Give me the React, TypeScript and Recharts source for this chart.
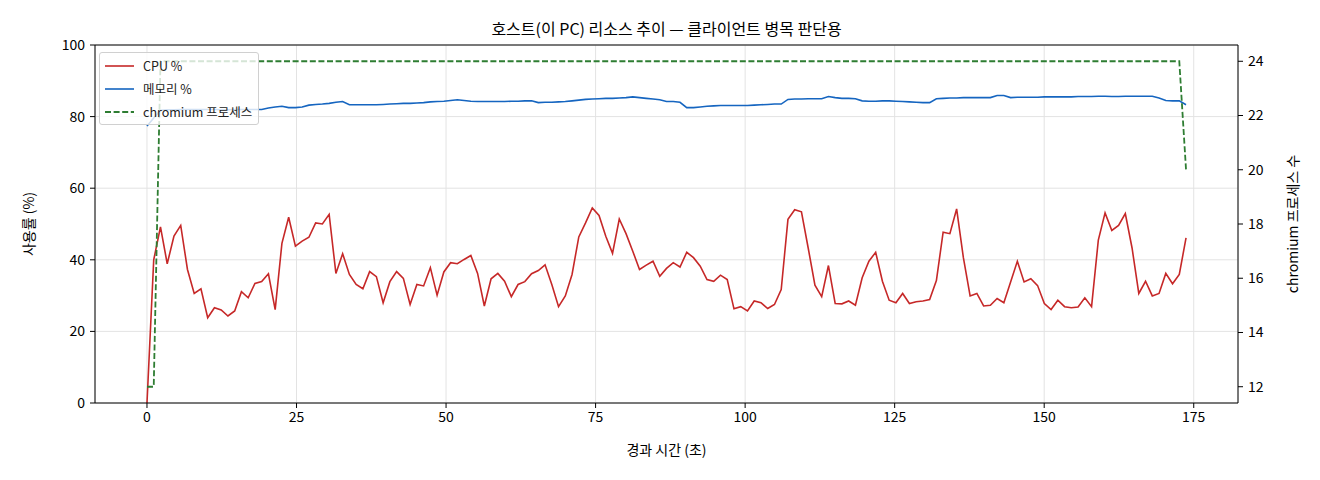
import { LineChart, Line, XAxis, YAxis, CartesianGrid, Legend, ReferenceLine } from 'recharts';

// sampling interval of the host monitor (seconds between samples)
const SAMPLE_SEC = 1.128;

const cpuPct = [
    0.0, 40.0, 49.2, 38.9, 46.6, 49.6, 37.3, 30.6, 31.9, 23.8,
    26.6, 26.0, 24.3, 25.7, 31.1, 29.4, 33.4, 33.9, 36.1, 26.1,
    44.6, 51.9, 43.8, 45.2, 46.3, 50.3, 50.0, 52.7, 36.2, 41.7,
    35.9, 33.1, 31.9, 36.7, 35.3, 28.0, 33.9, 36.7, 34.8, 27.5,
    33.1, 32.7, 37.8, 30.1, 36.6, 39.2, 38.9, 40.1, 41.2, 36.2,
    27.1, 34.7, 36.2, 34.0, 29.7, 33.1, 33.9, 36.1, 37.0, 38.6,
    33.1, 26.9, 29.9, 35.9, 46.4, 50.3, 54.5, 52.4, 46.6, 41.8,
    51.4, 47.3, 42.4, 37.3, 38.5, 39.6, 35.4, 37.6, 39.2, 38.0,
    42.1, 40.6, 38.2, 34.5, 34.0, 35.7, 34.5, 26.3, 26.9, 25.7,
    28.5, 28.0, 26.4, 27.5, 31.7, 51.3, 54.0, 53.4, 43.3, 32.9,
    29.7, 38.4, 27.8, 27.7, 28.5, 27.3, 35.0, 39.6, 42.1, 34.0,
    28.7, 28.0, 30.6, 27.8, 28.3, 28.5, 28.9, 34.2, 47.7, 47.3,
    54.2, 40.6, 29.9, 30.6, 27.1, 27.3, 29.2, 28.0, 33.8, 39.6,
    33.8, 34.7, 32.8, 27.8, 26.1, 28.7, 26.9, 26.6, 26.8, 29.4,
    26.9, 45.5, 53.1, 48.2, 49.6, 52.9, 43.3, 30.6, 34.0, 29.9,
    30.6, 36.2, 33.3, 35.9, 46.1,
];

const memPct = [
    77.4, 79.6, 81.8, 81.9, 81.9, 82.0, 82.0, 82.0, 82.0, 82.0,
    82.0, 81.9, 81.9, 82.0, 82.0, 82.0, 82.0, 82.0, 82.4, 82.7,
    82.9, 82.5, 82.5, 82.7, 83.2, 83.4, 83.5, 83.7, 84.0, 84.2,
    83.3, 83.3, 83.3, 83.3, 83.3, 83.4, 83.5, 83.6, 83.7, 83.7,
    83.8, 83.9, 84.1, 84.2, 84.3, 84.5, 84.7, 84.5, 84.3, 84.2,
    84.2, 84.2, 84.2, 84.2, 84.3, 84.3, 84.4, 84.4, 83.9, 84.0,
    84.0, 84.1, 84.2, 84.4, 84.6, 84.8, 84.9, 85.0, 85.1, 85.1,
    85.2, 85.3, 85.5, 85.3, 85.1, 84.9, 84.7, 84.2, 84.2, 84.0,
    82.5, 82.5, 82.7, 82.9, 83.0, 83.1, 83.1, 83.1, 83.1, 83.1,
    83.2, 83.3, 83.4, 83.5, 83.5, 84.8, 84.9, 84.9, 85.0, 85.0,
    85.0, 85.6, 85.3, 85.1, 85.1, 85.0, 84.4, 84.3, 84.3, 84.4,
    84.4, 84.3, 84.2, 84.1, 84.0, 83.9, 83.9, 85.0, 85.1, 85.2,
    85.2, 85.3, 85.3, 85.3, 85.3, 85.3, 85.9, 85.9, 85.3, 85.4,
    85.4, 85.4, 85.4, 85.5, 85.5, 85.5, 85.5, 85.5, 85.6, 85.6,
    85.6, 85.7, 85.7, 85.6, 85.6, 85.7, 85.7, 85.7, 85.7, 85.7,
    85.2, 84.5, 84.4, 84.4, 83.3,
];

const chromiumProcs = [
    12, 12,
    24, 24, 24, 24, 24, 24, 24, 24, 24, 24, 24, 24, 24, 24, 24, 24, 24, 24, 24,
    24, 24, 24, 24, 24, 24, 24, 24, 24, 24, 24, 24, 24, 24, 24, 24, 24, 24, 24,
    24, 24, 24, 24, 24, 24, 24, 24, 24, 24, 24, 24, 24, 24, 24, 24, 24, 24, 24,
    24, 24, 24, 24, 24, 24, 24, 24, 24, 24, 24, 24, 24, 24, 24, 24, 24, 24, 24,
    24, 24, 24, 24, 24, 24, 24, 24, 24, 24, 24, 24, 24, 24, 24, 24, 24, 24, 24,
    24, 24, 24, 24, 24, 24, 24, 24, 24, 24, 24, 24, 24, 24, 24, 24, 24, 24, 24,
    24, 24, 24, 24, 24, 24, 24, 24, 24, 24, 24, 24, 24, 24, 24, 24, 24, 24, 24,
    24, 24, 24, 24, 24, 24, 24, 24, 24, 24, 24, 24, 24, 24, 24, 24, 24, 24, 24,
    20,
];

const xTicks = [0, 25, 50, 75, 100, 125, 150, 175];
const leftTicks = [0, 20, 40, 60, 80, 100];
const rightTicks = [12, 14, 16, 18, 20, 22, 24];

const series = [
    { key: 'cpu', name: 'CPU %', color: '#c62828', dash: undefined, width: 1.6, axis: 'left' },
    { key: 'mem', name: '메모리 %', color: '#1565c0', dash: undefined, width: 1.6, axis: 'left' },
    { key: 'proc', name: 'chromium 프로세스', color: '#2e7d32', dash: '6 2.6', width: 1.8, axis: 'right' },
];

const data = cpuPct.map((cpu, i) => ({
    t: i * SAMPLE_SEC,
    cpu,
    mem: memPct[i],
    proc: chromiumProcs[i],
}));

const FONT = '"Noto Sans CJK KR", "Noto Sans", sans-serif';
const tickStyle = { fill: '#000', fontSize: 14, fontFamily: FONT };

const LegendBox = () => (
    <div
        style={{
            background: 'rgba(255,255,255,0.8)',
            border: '1px solid #d0d0d0',
            borderRadius: 3,
            padding: '1px 6px 1px 5px',
            fontFamily: FONT,
            fontSize: 12.5,
            color: '#222',
        }}
    >
        {series.map((s) => (
            <div key={s.key} style={{ display: 'flex', alignItems: 'center', height: 23 }}>
                <svg width={29} height={4}>
                    <line x1={0} x2={29} y1={2} y2={2} stroke={s.color} strokeWidth={s.width} strokeDasharray={s.dash} />
                </svg>
                <span style={{ marginLeft: 9, whiteSpace: 'nowrap' }}>{s.name}</span>
            </div>
        ))}
    </div>
);

const App = () => {
    return (
        <div style={{ position: 'absolute', left: 0, top: 0, width: 1320, height: 480, background: '#fff' }}>
            <LineChart data={data} width={1320} height={480} margin={{ top: 45, right: 0, bottom: 0, left: 0 }}>
                <CartesianGrid yAxisId="left" stroke="#e3e3e3" strokeWidth={1} />
                <XAxis
                    type="number"
                    dataKey="t"
                    domain={[-8.69, 182.4]}
                    ticks={xTicks}
                    allowDataOverflow
                    height={77}
                    tick={tickStyle}
                    tickSize={5}
                    tickMargin={4}
                    stroke="#000"
                />
                <YAxis
                    yAxisId="left"
                    domain={[0, 100]}
                    ticks={leftTicks}
                    width={95}
                    tick={tickStyle}
                    tickSize={5}
                    tickMargin={5}
                    stroke="#000"
                />
                <YAxis
                    yAxisId="right"
                    orientation="right"
                    domain={[11.4, 24.6]}
                    ticks={rightTicks}
                    allowDataOverflow
                    width={82}
                    tick={tickStyle}
                    tickSize={5}
                    tickMargin={5}
                    stroke="#000"
                />
                <ReferenceLine yAxisId="left" y={100} stroke="#000" strokeWidth={1} />
                <Legend
                    layout="vertical"
                    align="center"
                    verticalAlign="middle"
                    content={<LegendBox />}
                    wrapperStyle={{ left: 99, top: 52, width: 'auto', height: 'auto' }}
                />
                {series.map((s) => (
                    <Line
                        key={s.key}
                        yAxisId={s.axis}
                        dataKey={s.key}
                        name={s.name}
                        type="linear"
                        stroke={s.color}
                        strokeWidth={s.width}
                        strokeDasharray={s.dash}
                        dot={false}
                        activeDot={false}
                        isAnimationActive={false}
                    />
                ))}
            </LineChart>
            <svg
                width={1320}
                height={480}
                style={{ position: 'absolute', left: 0, top: 0, pointerEvents: 'none' }}
                fontFamily={FONT}
                fill="#000"
            >
                <text x={666.5} y={35} textAnchor="middle" fontSize={16}>
                    호스트(이 PC) 리소스 추이 — 클라이언트 병목 판단용
                </text>
                <text x={666.5} y={455} textAnchor="middle" fontSize={14}>
                    경과 시간 (초)
                </text>
                <text transform="translate(28,224) rotate(-90)" textAnchor="middle" dominantBaseline="central" fontSize={14}>
                    사용률 (%)
                </text>
                <text transform="translate(1292,224) rotate(-90)" textAnchor="middle" dominantBaseline="central" fontSize={14}>
                    chromium 프로세스 수
                </text>
            </svg>
        </div>
    );
};

export default App;
